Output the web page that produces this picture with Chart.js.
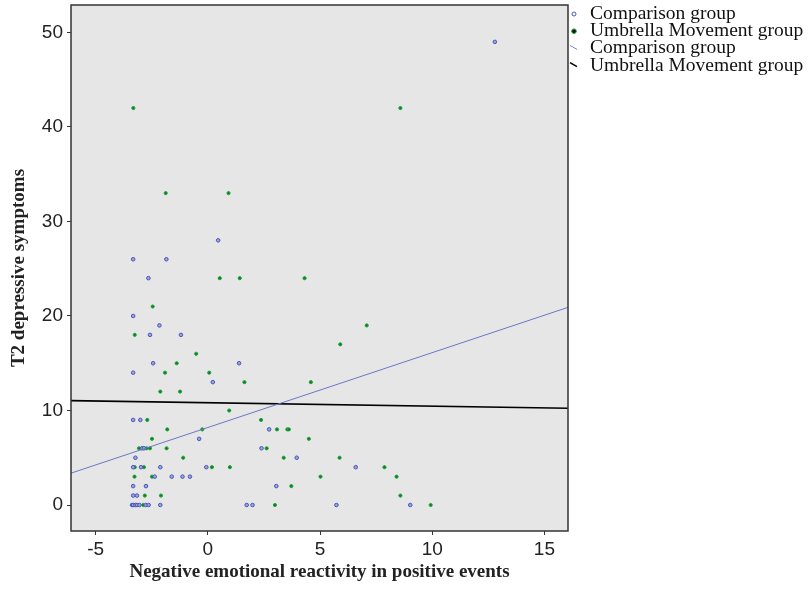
<!DOCTYPE html>
<html>
<head>
<meta charset="utf-8">
<script src="https://cdn.jsdelivr.net/npm/chart.js@4"></script>
<style>
  html, body { margin: 0; padding: 0; background: #fff; }
  #wrap { width: 809px; height: 592px; }
</style>
</head>
<body>
<div id="wrap"><canvas id="chart" width="809" height="592"></canvas></div>
<script>
// Comparison group points (x = negative reactivity, y = T2 depressive symptoms)
const compX = [-3.33, -1.85, -2.65, 0.46, 12.79, -3.33, -2.16, -2.58, -1.2, -2.44, 1.39, -3.33, 0.22,
    -3.33, -3.01, 2.73, -0.39, -2.93, -2.85, 2.39, -3.23, 3.96, -3.33, -2.98, -2.12, -0.07, 6.59,
    -2.37, -1.61, -1.13, -0.8, -3.33, -2.76, 3.05, -3.33, -3.16,
    -3.38, -3.33, -3.23, -3.16, -3.05, -2.77, -2.64, -2.12, 1.73, 1.99, 5.73, 9.02];
const compY = [26, 26, 24, 28, 49, 20, 19, 18, 18, 15, 15, 14, 13,
    9, 9, 8, 7, 6, 6, 6, 5, 5, 4, 4, 4, 4, 4,
    3, 3, 3, 3, 2, 2, 2, 1, 1,
    0, 0, 0, 0, 0, 0, 0, 0, 0, 0, 0, 0];

// Umbrella Movement group points
const umbX = [-3.32, 8.58, -1.88, 0.92, 0.53, 1.42, 4.31, -2.46, 7.08, -3.26, 5.9, -0.52, -1.39, -1.91,
    0.06, 1.63, 4.59, -2.12, -1.24, 0.95, -2.7, 2.37, -1.81, -0.25, 3.08, 3.54, 3.61, -2.49, 4.5,
    -3.07, -2.73, -2.58, -1.84, 2.62, -1.1, 3.38, 5.87, -3.26, -2.85, 0.18, 0.98, 7.87,
    -3.27, -2.49, 5.02, 8.41, 3.72, -2.81, -2.09, 8.58, -2.88, 2.99, 9.93];
const umbY = [42, 42, 33, 33, 24, 24, 24, 21, 19, 18, 17, 16, 15, 14,
    14, 13, 13, 12, 12, 10, 9, 9, 8, 8, 8, 8, 8, 7, 7,
    6, 6, 6, 6, 6, 5, 5, 5, 4, 4, 4, 4, 4,
    3, 3, 3, 3, 2, 1, 1, 1, 0, 0, 0];

// fit lines (intercept + slope * x), one per group
const fitLabels = ['Comparison group', 'Umbrella Movement group'];
const fitIntercepts = [8.2, 10.82];
const fitSlopes = [0.792, -0.0368];

const xTicks = [-5, 0, 5, 10, 15];
const yTicks = [0, 10, 20, 30, 40, 50];
const xRange = [-6.1, 16.05];
const yRange = [-2.75, 52.9];

const fitLine = (i) => xRange.map(x => ({ x: x, y: fitIntercepts[i] + fitSlopes[i] * x }));
const toPoints = (xs, ys) => xs.map((x, i) => ({ x: x, y: ys[i] }));

const BLUE = '#4a58b8';
const GREEN = '#22a83c';

const framePlugin = {
    id: 'frame',
    beforeDraw(chart) {
        const { ctx, chartArea: a } = chart;
        ctx.save();
        ctx.fillStyle = '#e6e6e6';
        ctx.fillRect(a.left, a.top, a.right - a.left, a.bottom - a.top);
        ctx.restore();
    },
    afterDraw(chart) {
        const { ctx, chartArea: a } = chart;
        ctx.save();
        ctx.strokeStyle = '#333';
        ctx.lineWidth = 1.5;
        ctx.strokeRect(a.left, a.top, a.right - a.left, a.bottom - a.top);

        // legend on the right, two point markers then two line markers
        const lx = a.right + 3;
        const tx = a.right + 22;
        const rows = [19, 36.2, 53.4, 70.6];
        ctx.font = '19.5px "Liberation Serif", "Times New Roman", serif';
        ctx.fillStyle = '#111';
        ctx.textBaseline = 'alphabetic';
        const names = [fitLabels[0], fitLabels[1], fitLabels[0], fitLabels[1]];
        names.forEach((t, i) => ctx.fillText(t, tx, rows[i]));

        ctx.lineWidth = 1;
        ctx.strokeStyle = BLUE;
        ctx.beginPath(); ctx.arc(lx + 3, rows[0] - 5, 2, 0, Math.PI * 2); ctx.stroke();
        ctx.fillStyle = '#111';
        ctx.strokeStyle = GREEN;
        ctx.beginPath(); ctx.arc(lx + 3, rows[1] - 5, 2.3, 0, Math.PI * 2); ctx.fill(); ctx.stroke();
        ctx.strokeStyle = '#7d88cc';
        ctx.beginPath(); ctx.moveTo(lx - 1, rows[2] - 8); ctx.lineTo(lx + 6, rows[2] - 4); ctx.stroke();
        ctx.strokeStyle = '#000';
        ctx.lineWidth = 1.5;
        ctx.beginPath(); ctx.moveTo(lx - 1, rows[3] - 8); ctx.lineTo(lx + 6, rows[3] - 4); ctx.stroke();
        ctx.restore();
    }
};

const tickFont = { family: '"Liberation Sans", Arial, sans-serif', size: 19 };
const titleFont = { family: '"Liberation Serif", "Times New Roman", serif', size: 19, weight: 'bold' };

new Chart(document.getElementById('chart').getContext('2d'), {
    type: 'scatter',
    data: {
        datasets: [{
            label: fitLabels[0] + ' fit',
            data: fitLine(0),
            showLine: true,
            borderColor: '#6a78c8',
            borderWidth: 1,
            pointRadius: 0,
            order: 0
        }, {
            label: fitLabels[1] + ' fit',
            data: fitLine(1),
            showLine: true,
            borderColor: '#000',
            borderWidth: 1.6,
            pointRadius: 0,
            order: 0
        }, {
            label: fitLabels[0],
            data: toPoints(compX, compY),
            pointRadius: 1.8,
            pointBorderWidth: 1,
            borderColor: BLUE,
            backgroundColor: '#9aa2dd',
            order: 1
        }, {
            label: fitLabels[1],
            data: toPoints(umbX, umbY),
            pointRadius: 1.6,
            pointBorderWidth: 1,
            borderColor: GREEN,
            backgroundColor: '#127a2a',
            order: 1
        }]
    },
    options: {
        responsive: false,
        animation: false,
        devicePixelRatio: 1,
        layout: { padding: { top: 5, right: 241, left: 0, bottom: 0 } },
        plugins: { legend: { display: false }, tooltip: { enabled: false } },
        scales: {
            x: {
                type: 'linear',
                min: xRange[0],
                max: xRange[1],
                afterBuildTicks: (s) => { s.ticks = xTicks.map(v => ({ value: v })); },
                afterFit: (s) => { s.height = 61; s.paddingLeft = 0; s.paddingRight = 0; },
                ticks: { font: tickFont, color: '#222', padding: 3 },
                grid: { drawOnChartArea: false, drawTicks: true, tickLength: 4, color: '#333' },
                border: { display: false },
                title: {
                    display: true,
                    text: 'Negative emotional reactivity in positive events',
                    font: titleFont,
                    color: '#222',
                    padding: { top: 0, bottom: 9 }
                }
            },
            y: {
                type: 'linear',
                min: yRange[0],
                max: yRange[1],
                afterBuildTicks: (s) => { s.ticks = yTicks.map(v => ({ value: v })); },
                afterFit: (s) => { s.width = 71; s.paddingTop = 0; s.paddingBottom = 0; },
                ticks: { font: tickFont, color: '#222', padding: 4 },
                grid: { drawOnChartArea: false, drawTicks: true, tickLength: 4, color: '#333' },
                border: { display: false },
                title: {
                    display: true,
                    text: 'T2 depressive symptoms',
                    font: titleFont,
                    color: '#222',
                    padding: { top: 8, bottom: 0 }
                }
            }
        }
    },
    plugins: [framePlugin]
});
</script>
</body>
</html>
